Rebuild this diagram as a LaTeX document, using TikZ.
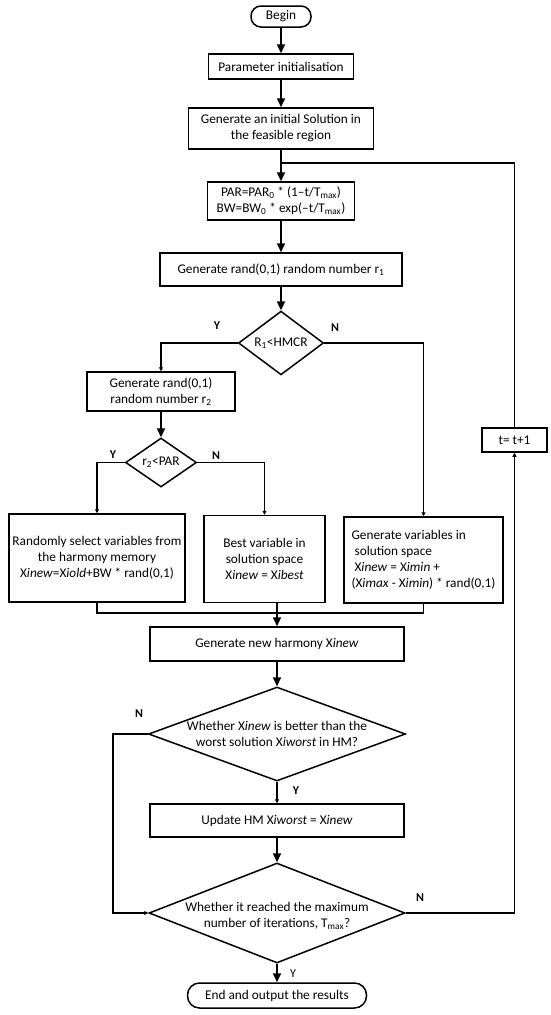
\documentclass[tikz,border=0pt]{standalone}
\usepackage{fontspec}
\setmainfont{Carlito}
\usetikzlibrary{shapes}
\usetikzlibrary{arrows.meta}

\begin{document}
\begin{tikzpicture}[x=1pt,y=-1pt]
	\tikzstyle{every node}=[font=\fontsize{13.3}{16}\selectfont]
	\tikzstyle{proc}=[rectangle,draw,line width=1.5pt,inner sep=2pt,align=center]
	\tikzstyle{term}=[proc,rounded corners=10pt]
	\tikzstyle{dec}=[diamond,draw,line width=1.5pt,inner sep=0pt,align=center]
	\tikzstyle{yn}=[font=\fontsize{12}{14}\selectfont\bfseries]
	\tikzstyle{conn}=[line width=1.6pt]
	\tikzstyle{bigarr}=[conn,-{Triangle[length=9pt,width=8pt]}]
	\tikzstyle{smallarr}=[conn,-{Triangle[length=4pt,width=4pt]}]

	\useasboundingbox (0,0) rectangle (550,1015);

	% main column
	\node[term,minimum width=60pt,minimum height=21pt] (begin) at (281,16.5) {Begin};
	\node[proc,minimum width=145pt,minimum height=25pt] (param) at (281,66.5) {Parameter initialisation};
	\node[proc,minimum width=185pt,minimum height=41pt] (init) at (281,128.5) {Generate an initial Solution in\\the feasible region};
	\node[proc,minimum width=147pt,minimum height=38pt] (par) at (281,201) {PAR=PAR\textsubscript{0} * (1--t/T\textsubscript{max})\\BW=BW\textsubscript{0} * exp(--t/T\textsubscript{max})};
	\node[proc,minimum width=242pt,minimum height=33pt] (rnd1) at (281,269.5) {Generate rand(0,1) random number r\textsubscript{1}};
	\node[dec,minimum width=85pt,minimum height=54pt] (hmcr) at (281,343) {R\textsubscript{1}<HMCR};

	% branches
	\node[proc,minimum width=148pt,minimum height=39pt] (rnd2) at (161,391.5) {Generate rand(0,1)\\random number r\textsubscript{2}};
	\node[dec,minimum width=71pt,minimum height=49pt] (pa) at (161,462.5) {r\textsubscript{2}<PAR};
	\node[proc,minimum width=176pt,minimum height=88pt] (rsel) at (97,558) {Randomly select variables from\\the harmony memory\\X\textit{inew}=X\textit{iold}+BW * rand(0,1)};
	\node[proc,minimum width=121pt,minimum height=87pt] (best) at (264.5,559) {Best variable in\\solution space\\X\textit{inew} = X\textit{ibest}};
	\node[proc,minimum width=159pt,minimum height=86pt,align=left] (gvar) at (423.5,560) {Generate variables in\\\hspace{3pt}solution space\\\hspace{3pt}X\textit{inew} = X\textit{imin} +\\(X\textit{imax} - X\textit{imin}) * rand(0,1)};

	% lower column
	\node[proc,minimum width=254pt,minimum height=34pt] (harm) at (277,644) {Generate new harmony X\textit{inew}};
	\node[dec,minimum width=257pt,minimum height=94pt,label={[align=center]center:Whether X\textit{inew} is better than the\\worst solution X\textit{iworst} in HM?}] (better) at (277,734) {};
	\node[proc,minimum width=254pt,minimum height=33pt] (upd) at (277,820.5) {Update HM X\textit{iworst} = X\textit{inew}};
	\node[dec,minimum width=256pt,minimum height=100pt,label={[align=center,yshift=-3pt]center:Whether it reached the maximum\\number of iterations, T\textsubscript{max}?}] (maxit) at (277,913) {};
	\node[term,minimum width=179pt,minimum height=25pt,rounded corners=12pt] (end) at (277,995.5) {End and output the results};
	\node[proc,minimum width=65pt,minimum height=24pt] (tinc) at (514.5,440) {t= t+1};

	\coordinate (join) at (281,163);
	\coordinate (mrg) at (277,613);
	\coordinate (nleft) at (113,734);

	\draw[bigarr] (begin) -- (param);
	\draw[bigarr] (param) -- (init);
	\draw[bigarr] (init) -- (par);
	\draw[bigarr] (par) -- (rnd1);
	\draw[bigarr] (rnd1) -- (hmcr);
	\draw[smallarr] (hmcr.west) -| (rnd2.north);
	\draw[smallarr] (hmcr.east) -| (gvar.north);
	\draw[bigarr] (rnd2) -- (pa);
	\draw[smallarr] (pa.west) -| (rsel.north);
	\draw[smallarr] (pa.east) -| (best.north);
	\draw[conn] (rsel.south) |- (mrg) -| (gvar.south);
	\draw[bigarr] (best.south -| harm.north) -- (harm.north);
	\draw[bigarr] (harm) -- (better);
	\draw[smallarr] (better) -- (upd);
	\draw[bigarr] (upd) -- (maxit);
	\draw[smallarr] (better.west) -- (nleft) |- (maxit.west);
	\draw[bigarr] (maxit) -- (end);
	\draw[smallarr] (maxit.east) -| (tinc.south);
	\draw[conn] (tinc.north) |- (join);

	% Y / N labels
	\node[yn] (y1) at (217,326) {Y};
	\node[yn] (n1) at (335,328) {N};
	\node[yn] (y2) at (113,455) {Y};
	\node[yn] (n2) at (216,456) {N};
	\node[yn] (n3) at (139,714) {N};
	\node[yn] (y3) at (296,791) {Y};
	\node[yn] (n4) at (420,898) {N};
	\node[font=\fontsize{12}{14}\selectfont] (y4) at (293,974) {Y};
\end{tikzpicture}
\end{document}
